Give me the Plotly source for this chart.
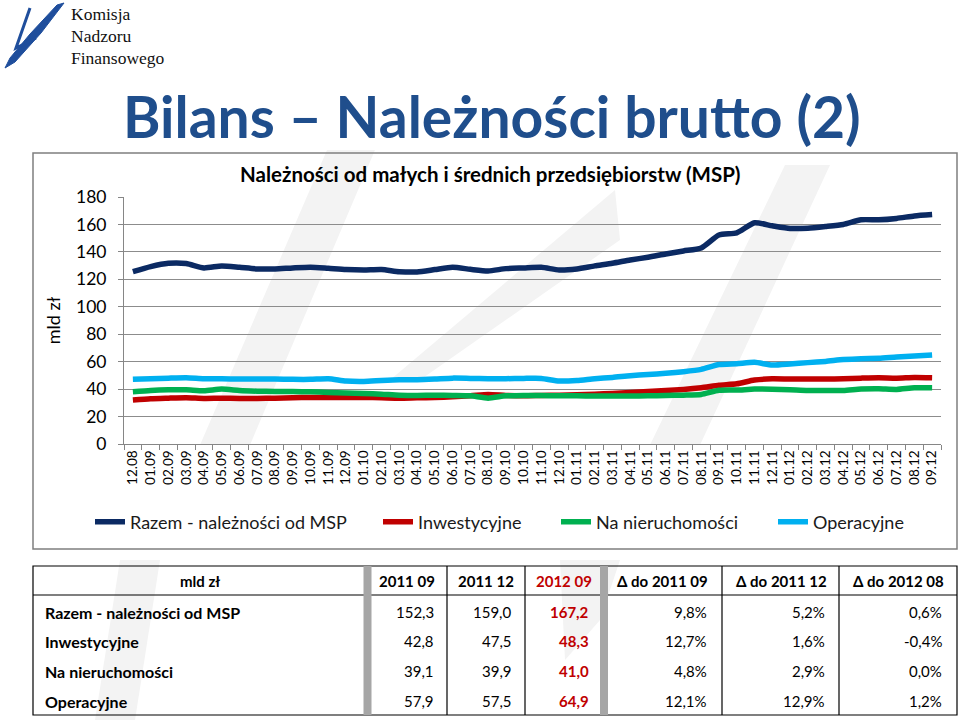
import plotly.graph_objects as go

W, H = 959, 725

months = ["12.08", "01.09", "02.09", "03.09", "04.09", "05.09", "06.09", "07.09", "08.09", "09.09",
          "10.09", "11.09", "12.09", "01.10", "02.10", "03.10", "04.10", "05.10", "06.10", "07.10",
          "08.10", "09.10", "10.10", "11.10", "12.10", "01.11", "02.11", "03.11", "04.11", "05.11",
          "06.11", "07.11", "08.11", "09.11", "10.11", "11.11", "12.11", "01.12", "02.12", "03.12",
          "04.12", "05.12", "06.12", "07.12", "08.12", "09.12"]

razem = [125.6, 129.3, 131.7, 131.5, 128.3, 129.8, 128.8, 127.6, 127.6, 128.3,
         128.8, 128.0, 127.1, 126.8, 127.1, 125.6, 125.4, 127.1, 128.8, 127.3,
         126.1, 127.8, 128.3, 128.8, 126.8, 127.6, 129.8, 131.7, 134.1, 136.1,
         138.5, 140.7, 142.9, 152.3, 153.9, 161.2, 159.0, 157.1, 157.3, 158.5,
         160.0, 163.4, 163.4, 164.4, 166.2, 167.2]
inwestycyjne = [32.0, 33.0, 33.4, 33.7, 33.2, 33.4, 33.2, 33.2, 33.4, 33.7,
                33.9, 33.9, 33.9, 33.9, 33.7, 33.4, 33.7, 33.9, 34.4, 35.1,
                36.1, 35.4, 35.1, 35.4, 35.6, 35.9, 36.3, 36.8, 37.6, 38.3,
                39.0, 39.8, 41.0, 42.8, 43.9, 46.6, 47.5, 47.3, 47.3, 47.3,
                47.6, 48.0, 48.3, 48.0, 48.5, 48.3]
nieruchomosci = [38.0, 39.0, 39.5, 39.5, 38.8, 40.0, 39.0, 38.5, 38.3, 38.3,
                 38.0, 37.6, 37.1, 36.8, 36.3, 35.6, 35.4, 35.6, 35.4, 35.1,
                 33.4, 35.1, 35.4, 35.4, 35.1, 35.1, 34.9, 34.9, 34.9, 35.1,
                 35.4, 35.6, 36.1, 39.1, 39.3, 40.0, 39.9, 39.5, 39.0, 39.0,
                 39.0, 40.0, 40.2, 39.8, 41.0, 41.0]
operacyjne = [47.1, 47.6, 48.0, 48.3, 47.6, 47.6, 47.3, 47.3, 47.3, 47.1,
              47.1, 47.6, 45.9, 45.6, 46.3, 46.8, 46.8, 47.3, 48.0, 47.8,
              47.6, 47.6, 47.8, 47.8, 45.9, 46.3, 47.6, 48.5, 49.8, 50.7,
              51.5, 52.7, 54.4, 57.9, 58.5, 59.5, 57.5, 58.3, 59.3, 60.2,
              61.5, 62.2, 62.4, 63.4, 64.1, 64.9]

series_names = ["Razem - należności od MSP", "Inwestycyjne", "Na nieruchomości", "Operacyjne"]
series_colors = ["#0B2A63", "#C00000", "#00B050", "#00B0F0"]
y_ticks = [0, 20, 40, 60, 80, 100, 120, 140, 160, 180]

table_header = ["mld zł", "2011 09", "2011 12", "2012 09", "Δ do 2011 09", "Δ do 2011 12", "Δ do 2012 08"]
table_rows = ["Razem - należności od MSP", "Inwestycyjne", "Na nieruchomości", "Operacyjne"]
col_2011_09 = ["152,3", "42,8", "39,1", "57,9"]
col_2011_12 = ["159,0", "47,5", "39,9", "57,5"]
col_2012_09 = ["167,2", "48,3", "41,0", "64,9"]
col_d_2011_09 = ["9,8%", "12,7%", "4,8%", "12,1%"]
col_d_2011_12 = ["5,2%", "1,6%", "2,9%", "12,9%"]
col_d_2012_08 = ["0,6%", "-0,4%", "0,0%", "1,2%"]


def X(px):
    return px / W


def Y(py):
    return 1 - py / H


FONT = "Lato, 'Open Sans', sans-serif"

legend_ids = ["legend", "legend2", "legend3", "legend4"]
legend_x = [90, 378, 556, 773]

fig = go.Figure()
for name, vals, col, lid in zip(series_names, [razem, inwestycyjne, nieruchomosci, operacyjne],
                                series_colors, legend_ids):
    fig.add_trace(go.Scatter(x=months, y=vals, name=name, mode="lines", legend=lid,
                             line=dict(color=col, width=5.5, shape="spline", smoothing=0.6)))

shapes = []
annotations = []

# faint watermark bands
band_col = "rgba(243,243,243,1)"
bands = [
    [(200, 445), (250, 445), (375, 150), (327, 150)],
    [(650, 445), (700, 445), (830, 165), (785, 165)],
    [(390, 380), (420, 380), (620, 240), (615, 190)],
    [(560, 560), (620, 560), (600, 620), (565, 660)],
    [(95, 720), (135, 720), (160, 560), (120, 560)],
]
for b in bands:
    path = "M " + " L ".join(f"{X(px)},{Y(py)}" for px, py in b) + " Z"
    shapes.append(dict(type="path", xref="paper", yref="paper", path=path,
                       fillcolor=band_col, line=dict(width=0), layer="below"))

# logo
logo_col = "#1F4E9C"
p1 = [(5, 68), (15, 62), (41, 33), (64, 3), (57, 5), (30, 34), (10, 58)]
shapes.append(dict(type="path", xref="paper", yref="paper",
                   path="M " + " L ".join(f"{X(a)},{Y(b)}" for a, b in p1) + " Z",
                   fillcolor=logo_col, line=dict(color=logo_col, width=1)))
p2 = [(30, 8), (16, 48), (36, 38)]
shapes.append(dict(type="path", xref="paper", yref="paper",
                   path="M " + " L ".join(f"{X(a)},{Y(b)}" for a, b in p2),
                   line=dict(color=logo_col, width=3)))
for txt, py in [("Komisja", 14), ("Nadzoru", 36), ("Finansowego", 58)]:
    annotations.append(dict(text=txt, x=X(69), y=Y(py), xref="paper", yref="paper",
                            xanchor="left", yanchor="middle", showarrow=False,
                            font=dict(family="'Liberation Serif', 'DejaVu Serif', serif", size=17.5,
                                      color="#111111")))

# main title
annotations.append(dict(text="<b>Bilans – Należności brutto (2)</b>", x=X(492), y=Y(116),
                        xref="paper", yref="paper", xanchor="center", yanchor="middle", showarrow=False,
                        font=dict(family=FONT, size=57, color="#1F4E8C")))

# chart frame
shapes.append(dict(type="rect", xref="paper", yref="paper", x0=X(33), x1=X(957), y0=Y(549), y1=Y(153),
                   line=dict(color="#7F7F7F", width=1.5), layer="below"))
annotations.append(dict(text="<b>Należności od małych i średnich przedsiębiorstw (MSP)</b>", x=X(490), y=Y(174),
                        xref="paper", yref="paper", xanchor="center", yanchor="middle", showarrow=False,
                        font=dict(family=FONT, size=20.5, color="#000000")))

# table
tl, tr, tt, tb = 33, 957, 566, 715
hdr_bottom = 595
shapes.append(dict(type="rect", xref="paper", yref="paper", x0=X(tl), x1=X(tr), y0=Y(tb), y1=Y(tt),
                   line=dict(color="#000000", width=1.2)))
shapes.append(dict(type="line", xref="paper", yref="paper", x0=X(tl), x1=X(tr), y0=Y(hdr_bottom), y1=Y(hdr_bottom),
                   line=dict(color="#000000", width=1.2)))
for gx in [367.5, 604]:
    shapes.append(dict(type="line", xref="paper", yref="paper", x0=X(gx), x1=X(gx), y0=Y(tb), y1=Y(tt),
                       line=dict(color="#A6A6A6", width=8)))
for sx in [447, 525, 722, 839]:
    shapes.append(dict(type="line", xref="paper", yref="paper", x0=X(sx), x1=X(sx), y0=Y(tb), y1=Y(tt),
                       line=dict(color="#000000", width=1.2)))

header_x = [200, 407, 486, 564, 662, 781, 898]
for i, (txt, hx) in enumerate(zip(table_header, header_x)):
    col = "#C00000" if i == 3 else "#000000"
    annotations.append(dict(text=f"<b>{txt}</b>", x=X(hx), y=Y(581), xref="paper", yref="paper",
                            xanchor="center", yanchor="middle", showarrow=False,
                            font=dict(family=FONT, size=15, color=col)))
row_y = [612, 641, 671, 701]
value_cols = [col_2011_09, col_2011_12, col_2012_09, col_d_2011_09, col_d_2011_12, col_d_2012_08]
right_x = [436, 514, 591, 709, 827, 944]
for r, ry in enumerate(row_y):
    annotations.append(dict(text=f"<b>{table_rows[r]}</b>", x=X(43), y=Y(ry), xref="paper", yref="paper",
                            xanchor="left", yanchor="middle", showarrow=False,
                            font=dict(family=FONT, size=16, color="#000000")))
    for c, (vals, rx) in enumerate(zip(value_cols, right_x)):
        if c == 2:
            txt, col = f"<b>{vals[r]}</b>", "#C00000"
        else:
            txt, col = vals[r], "#000000"
        annotations.append(dict(text=txt, x=X(rx), y=Y(ry), xref="paper", yref="paper",
                                xanchor="right", yanchor="middle", showarrow=False,
                                font=dict(family=FONT, size=15, color=col)))

legend_common = dict(orientation="h", yanchor="middle", xanchor="left",
                     font=dict(family=FONT, size=18, color="#1a1a1a"), bgcolor="rgba(0,0,0,0)",
                     itemwidth=30)

fig.update_layout(
    width=W, height=H,
    margin=dict(l=0, r=0, t=0, b=0, autoexpand=False),
    paper_bgcolor="white", plot_bgcolor="rgba(0,0,0,0)",
    font=dict(family=FONT, color="#000000"),
    showlegend=True,
    legend=dict(x=X(legend_x[0]), y=Y(522), **legend_common),
    legend2=dict(x=X(legend_x[1]), y=Y(522), **legend_common),
    legend3=dict(x=X(legend_x[2]), y=Y(522), **legend_common),
    legend4=dict(x=X(legend_x[3]), y=Y(522), **legend_common),
    xaxis=dict(domain=[X(124), X(941)], type="category", range=[-0.5, 45.5], automargin=False,
               tickangle=-90, tickfont=dict(family=FONT, size=13.5, color="#000000"),
               showgrid=False, showline=True, linecolor="#868686", linewidth=1,
               ticks="outside", ticklen=5, tickcolor="#868686", tickson="boundaries"),
    yaxis=dict(domain=[Y(444), Y(197)], range=[0, 180], tickvals=y_ticks, automargin=False,
               tickfont=dict(family=FONT, size=17.5, color="#000000"), ticklabelstandoff=8,
               showgrid=True, gridcolor="#8C8C8C", gridwidth=1,
               showline=True, linecolor="#868686", linewidth=1,
               ticks="outside", ticklen=5, tickcolor="#868686", zeroline=False,
               title=dict(text="mld zł", font=dict(family=FONT, size=18, color="#000000"), standoff=10)),
    shapes=shapes,
    annotations=annotations,
)

fig.write_html("out.html", config={"displayModeBar": False},
               post_script="document.body.style.margin='0';document.body.style.overflow='hidden';")
